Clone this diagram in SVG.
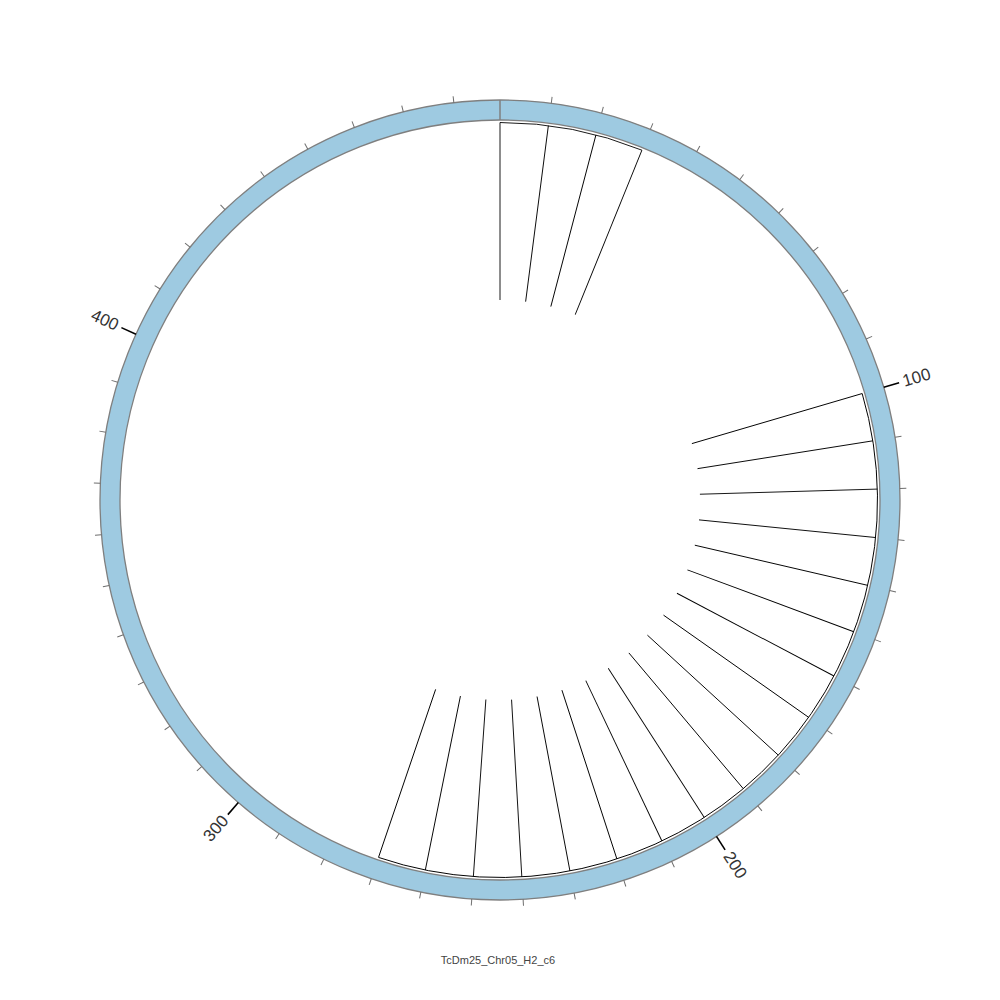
<svg xmlns="http://www.w3.org/2000/svg" width="1000" height="1000" viewBox="0 0 1000 1000">
<style>
.minor{stroke:#6e6e6e;stroke-width:1}
.major{stroke:#000;stroke-width:1.6}
.lbl{font-family:"Liberation Sans",Arial,sans-serif;font-size:17px;fill:#333}
.bar{stroke:#000;stroke-width:0.9;fill:none}
.title{font-family:"Liberation Sans",Arial,sans-serif;font-size:11px;fill:#444}
</style>
<rect width="1000" height="1000" fill="#fff"/>
<g id="ring">
<circle cx="500" cy="500" r="390" fill="none" stroke="#9ecae1" stroke-width="20"/>
<circle cx="500" cy="500" r="400" fill="none" stroke="#7f7f7f" stroke-width="1.3"/>
<circle cx="500" cy="500" r="380" fill="none" stroke="#7f7f7f" stroke-width="1.3"/>
<line x1="500" y1="100" x2="500" y2="120" stroke="#7f7f7f" stroke-width="1.5"/>
</g>
<g id="ticks">
<g class="minor">
<line x1="500" y1="100" x2="500" y2="93.5" transform="rotate(7.362 500 500)"/>
<line x1="500" y1="100" x2="500" y2="93.5" transform="rotate(14.724 500 500)"/>
<line x1="500" y1="100" x2="500" y2="93.5" transform="rotate(22.086 500 500)"/>
<line x1="500" y1="100" x2="500" y2="93.5" transform="rotate(29.448 500 500)"/>
<line x1="500" y1="100" x2="500" y2="93.5" transform="rotate(36.810 500 500)"/>
<line x1="500" y1="100" x2="500" y2="93.5" transform="rotate(44.172 500 500)"/>
<line x1="500" y1="100" x2="500" y2="93.5" transform="rotate(51.534 500 500)"/>
<line x1="500" y1="100" x2="500" y2="93.5" transform="rotate(58.896 500 500)"/>
<line x1="500" y1="100" x2="500" y2="93.5" transform="rotate(66.258 500 500)"/>
<line x1="500" y1="100" x2="500" y2="93.5" transform="rotate(80.982 500 500)"/>
<line x1="500" y1="100" x2="500" y2="93.5" transform="rotate(88.344 500 500)"/>
<line x1="500" y1="100" x2="500" y2="93.5" transform="rotate(95.706 500 500)"/>
<line x1="500" y1="100" x2="500" y2="93.5" transform="rotate(103.067 500 500)"/>
<line x1="500" y1="100" x2="500" y2="93.5" transform="rotate(110.429 500 500)"/>
<line x1="500" y1="100" x2="500" y2="93.5" transform="rotate(117.791 500 500)"/>
<line x1="500" y1="100" x2="500" y2="93.5" transform="rotate(125.153 500 500)"/>
<line x1="500" y1="100" x2="500" y2="93.5" transform="rotate(132.515 500 500)"/>
<line x1="500" y1="100" x2="500" y2="93.5" transform="rotate(139.877 500 500)"/>
<line x1="500" y1="100" x2="500" y2="93.5" transform="rotate(154.601 500 500)"/>
<line x1="500" y1="100" x2="500" y2="93.5" transform="rotate(161.963 500 500)"/>
<line x1="500" y1="100" x2="500" y2="93.5" transform="rotate(169.325 500 500)"/>
<line x1="500" y1="100" x2="500" y2="93.5" transform="rotate(176.687 500 500)"/>
<line x1="500" y1="100" x2="500" y2="93.5" transform="rotate(184.049 500 500)"/>
<line x1="500" y1="100" x2="500" y2="93.5" transform="rotate(191.411 500 500)"/>
<line x1="500" y1="100" x2="500" y2="93.5" transform="rotate(198.773 500 500)"/>
<line x1="500" y1="100" x2="500" y2="93.5" transform="rotate(206.135 500 500)"/>
<line x1="500" y1="100" x2="500" y2="93.5" transform="rotate(213.497 500 500)"/>
<line x1="500" y1="100" x2="500" y2="93.5" transform="rotate(228.221 500 500)"/>
<line x1="500" y1="100" x2="500" y2="93.5" transform="rotate(235.583 500 500)"/>
<line x1="500" y1="100" x2="500" y2="93.5" transform="rotate(242.945 500 500)"/>
<line x1="500" y1="100" x2="500" y2="93.5" transform="rotate(250.307 500 500)"/>
<line x1="500" y1="100" x2="500" y2="93.5" transform="rotate(257.669 500 500)"/>
<line x1="500" y1="100" x2="500" y2="93.5" transform="rotate(265.031 500 500)"/>
<line x1="500" y1="100" x2="500" y2="93.5" transform="rotate(272.393 500 500)"/>
<line x1="500" y1="100" x2="500" y2="93.5" transform="rotate(279.755 500 500)"/>
<line x1="500" y1="100" x2="500" y2="93.5" transform="rotate(287.117 500 500)"/>
<line x1="500" y1="100" x2="500" y2="93.5" transform="rotate(301.840 500 500)"/>
<line x1="500" y1="100" x2="500" y2="93.5" transform="rotate(309.202 500 500)"/>
<line x1="500" y1="100" x2="500" y2="93.5" transform="rotate(316.564 500 500)"/>
<line x1="500" y1="100" x2="500" y2="93.5" transform="rotate(323.926 500 500)"/>
<line x1="500" y1="100" x2="500" y2="93.5" transform="rotate(331.288 500 500)"/>
<line x1="500" y1="100" x2="500" y2="93.5" transform="rotate(338.650 500 500)"/>
<line x1="500" y1="100" x2="500" y2="93.5" transform="rotate(346.012 500 500)"/>
<line x1="500" y1="100" x2="500" y2="93.5" transform="rotate(353.374 500 500)"/>
</g>
<g class="major">
<line x1="500" y1="100" x2="500" y2="84" transform="rotate(73.620 500 500)"/>
<line x1="500" y1="100" x2="500" y2="84" transform="rotate(147.239 500 500)"/>
<line x1="500" y1="100" x2="500" y2="84" transform="rotate(220.859 500 500)"/>
<line x1="500" y1="100" x2="500" y2="84" transform="rotate(294.479 500 500)"/>
</g>
</g>
<g id="labels" class="lbl">
<text transform="rotate(73.620 500 500) translate(500 80) rotate(-90)" text-anchor="start" dominant-baseline="central">100</text>
<text transform="rotate(147.239 500 500) translate(500 80) rotate(-90)" text-anchor="start" dominant-baseline="central">200</text>
<text transform="rotate(220.859 500 500) translate(500 80) rotate(90)" text-anchor="end" dominant-baseline="central">300</text>
<text transform="rotate(294.479 500 500) translate(500 80) rotate(90)" text-anchor="end" dominant-baseline="central">400</text>
</g>
<g id="connectors">
<g id="bars-top" class="bar">
<path d="M500,122.5 A377.5 377.5 0 0 1 641.93,150.18"/>
<line x1="500" y1="300" x2="500" y2="122.5"/>
<line x1="500" y1="300" x2="500" y2="122.5" transform="rotate(7.362 500 500)"/>
<line x1="500" y1="300" x2="500" y2="122.5" transform="rotate(14.724 500 500)"/>
<line x1="500" y1="300" x2="500" y2="122.5" transform="rotate(22.086 500 500)"/>
</g>
<g id="bars-right" class="bar">
<path d="M500,122.5 A377.5 377.5 0 0 1 808.73,717.24" transform="rotate(73.620 500 500)"/>
<line x1="500" y1="300" x2="500" y2="122.5" transform="rotate(73.620 500 500)"/>
<line x1="500" y1="300" x2="500" y2="122.5" transform="rotate(80.982 500 500)"/>
<line x1="500" y1="300" x2="500" y2="122.5" transform="rotate(88.344 500 500)"/>
<line x1="500" y1="300" x2="500" y2="122.5" transform="rotate(95.706 500 500)"/>
<line x1="500" y1="300" x2="500" y2="122.5" transform="rotate(103.067 500 500)"/>
<line x1="500" y1="300" x2="500" y2="122.5" transform="rotate(110.429 500 500)"/>
<line x1="500" y1="300" x2="500" y2="122.5" transform="rotate(117.791 500 500)"/>
<line x1="500" y1="300" x2="500" y2="122.5" transform="rotate(125.153 500 500)"/>
<line x1="500" y1="300" x2="500" y2="122.5" transform="rotate(132.515 500 500)"/>
<line x1="500" y1="300" x2="500" y2="122.5" transform="rotate(139.877 500 500)"/>
<line x1="500" y1="300" x2="500" y2="122.5" transform="rotate(147.239 500 500)"/>
<line x1="500" y1="300" x2="500" y2="122.5" transform="rotate(154.601 500 500)"/>
<line x1="500" y1="300" x2="500" y2="122.5" transform="rotate(161.963 500 500)"/>
<line x1="500" y1="300" x2="500" y2="122.5" transform="rotate(169.325 500 500)"/>
<line x1="500" y1="300" x2="500" y2="122.5" transform="rotate(176.687 500 500)"/>
<line x1="500" y1="300" x2="500" y2="122.5" transform="rotate(184.049 500 500)"/>
<line x1="500" y1="300" x2="500" y2="122.5" transform="rotate(191.411 500 500)"/>
<line x1="500" y1="300" x2="500" y2="122.5" transform="rotate(198.773 500 500)"/>
</g>
</g>
<text id="title" class="title" x="498" y="964" text-anchor="middle">TcDm25_Chr05_H2_c6</text>
</svg>
